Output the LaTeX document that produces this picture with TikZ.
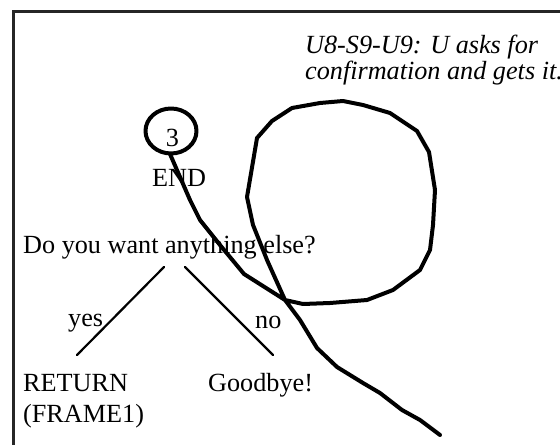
\documentclass[tikz,border=0pt]{standalone}
\usepackage{fontspec}
\setmainfont{Liberation Serif}
\begin{document}
\begin{tikzpicture}[x=1bp,y=-1bp,
  txt/.style={anchor=base west, inner sep=0pt, font=\fontsize{26.3}{28}\selectfont},
  itxt/.style={txt, font=\fontsize{26.3}{28}\selectfont\itshape},
  branch/.style={line width=2.2bp, line cap=round},
  ink/.style={line width=4bp, line join=round, line cap=round},
  framel/.style={line width=2.6bp, draw=black!85}]
\clip (0,0) rectangle (560,445);
% frame
\draw[framel] (13.3,460) -- (13.3,11.7) -- (580,11.7);
% texts
\node[itxt] (t1) at (305,53.3) {U8-S9-U9: U asks for};
\node[itxt] (t2) at (305,80) {confirmation and gets it.};
\node[txt, anchor=base] (three) at (172.5,147) {3};
\node[txt] (endn) at (152,187) {END};
\node[txt] (q) at (23,254) {Do you want anything else?};
\node[txt] (yes) at (68,326.5) {yes};
\node[txt] (no) at (255,328) {no};
\node[txt] (ret) at (23,391.7) {RETURN};
\node[txt] (fr) at (23,422.7) {(FRAME1)};
\node[txt] (bye) at (208,391.7) {Goodbye!};
% tree branches
\coordinate (qL) at (164,267);
\coordinate (qR) at (185,267);
\coordinate (bL) at (77,355);
\coordinate (bR) at (273,355);
\draw[branch] (qL) -- (bL);
\draw[branch] (qR) -- (bR);
% freehand strokes
\draw[ink] (171,131) ellipse [x radius=25.5, y radius=22.5];
\coordinate (tailstart) at (170,154);
\coordinate (tailend) at (440,435);
\draw[ink] (tailstart) -- (190,200) -- (200,220) -- (220,245) -- (244,274) -- (285,300)
  -- (303,304) -- (330,303) -- (367,300) -- (393,290) -- (420,270) -- (430,250)
  -- (433,225) -- (435,190) -- (429,152) -- (417,131) -- (390,113) -- (363,105)
  -- (343,101) -- (320,103) -- (292,108) -- (272,121) -- (257,138) -- (247,197)
  -- (253,225) -- (267,260) -- (285,300) -- (300,320) -- (317,348) -- (337,367)
  -- (363,383) -- (380,393) -- (402,410) -- (420,420) -- (tailend);
\end{tikzpicture}
\end{document}
